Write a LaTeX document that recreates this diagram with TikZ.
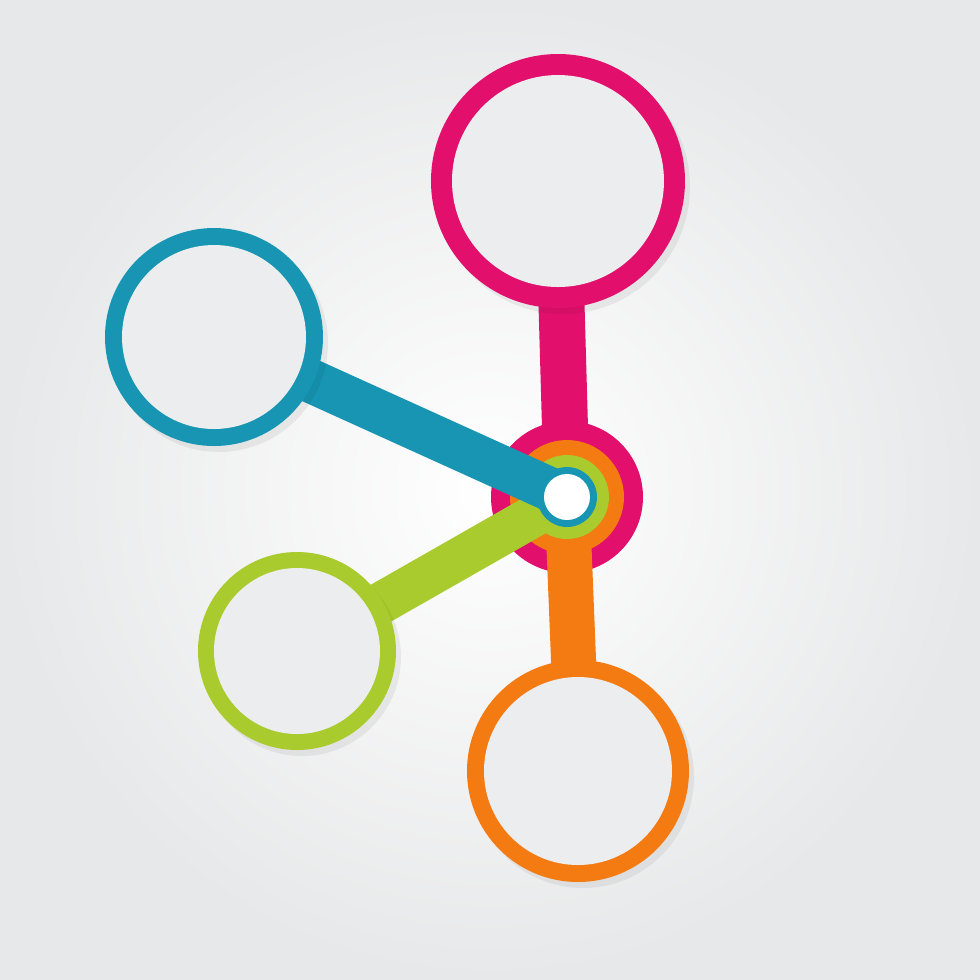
\documentclass[tikz,border=0pt]{standalone}
\usepackage{tikz}
\usetikzlibrary{positioning}
\usetikzlibrary{calc}
\usepackage{xcolor}
\definecolor{pink}{HTML}{E2106C}
\definecolor{teal}{HTML}{1795B3}
\definecolor{lime}{HTML}{A9CB2E}
\definecolor{orange}{HTML}{F47A12}
\definecolor{disc}{HTML}{ECEDEE}
\definecolor{bgout}{HTML}{E7E8E9}
\tikzset{
	every node/.style={circle,inner sep=0pt,outer sep=0pt},
	ring/.style={fill=#1},
	hole/.style={fill=disc},
	dropdisc/.style={fill=black, opacity=0.06},
	bar/.style={line width=#1, line cap=butt}
}

\begin{document}
\begin{tikzpicture}
			% Background
			\useasboundingbox (0,0) rectangle (9.8,-9.8);
			\shade[inner color=white, outer color=bgout] (0,0) rectangle (9.8,-9.8);
			
			\coordinate (hc) at (5.67,-4.97);
			\coordinate (mc) at (5.58,-1.81);
			\coordinate (oc) at (5.78,-7.71);
			\coordinate (gc) at (2.97,-6.51);
			\coordinate (bc) at (2.14,-3.37);
			
			% pink
			\node (hm) [ring=pink, minimum size=1.52cm] at (hc) {};
			\path (hc) edge[bar=0.46cm, pink] (mc);
			\node (ms) [dropdisc, minimum size=2.54cm] at ($(mc)+(0.05,-0.06)$) {};
			\node (m) [ring=pink, minimum size=2.54cm] at (mc) {};
			\node (mi) [hole, minimum size=2.12cm] at (mc) {};
			
			% orange
			\node (ho) [fill=orange, minimum size=1.14cm] at (hc) {};
			\path (hc) edge[bar=0.45cm, orange] (oc);
			\node (os) [dropdisc, minimum size=2.22cm] at ($(oc)+(0.05,-0.06)$) {};
			\node (o) [ring=orange, minimum size=2.22cm] at (oc) {};
			\node (oi) [hole, minimum size=1.88cm] at (oc) {};
			
			% green
			\node (hg) [fill=lime, minimum size=0.84cm] at (hc) {};
			\path (hc) edge[bar=0.42cm, lime] (gc);
			\node (gs) [dropdisc, minimum size=1.98cm] at ($(gc)+(0.05,-0.06)$) {};
			\node (g) [ring=lime, minimum size=1.98cm] at (gc) {};
			\node (gi) [hole, minimum size=1.66cm] at (gc) {};
			
			% blue
			\node (hb) [fill=teal, minimum size=0.60cm] at (hc) {};
			\path (hc) edge[bar=0.44cm, teal] (bc);
			\node (bs) [dropdisc, minimum size=2.18cm] at ($(bc)+(0.05,-0.06)$) {};
			\node (b) [ring=teal, minimum size=2.18cm] at (bc) {};
			\node (bi) [hole, minimum size=1.84cm] at (bc) {};
			
			\node (hub) [fill=white, minimum size=0.46cm] at (hc) {};
			
		\end{tikzpicture}
\end{document}
